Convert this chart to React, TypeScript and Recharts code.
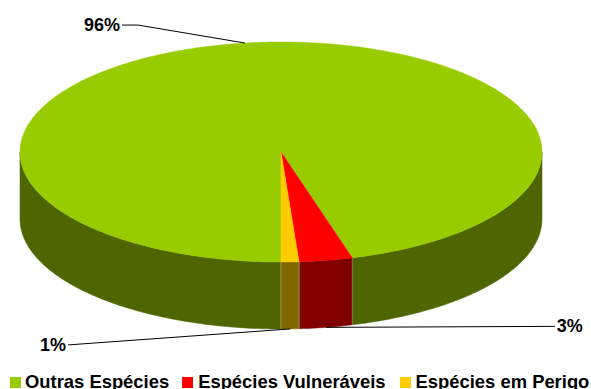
import React from 'react';
import { PieChart, Pie, Cell, Legend } from 'recharts';

// ---- data ----
const categories = ['Outras Espécies', 'Espécies Vulneráveis', 'Espécies em Perigo'];
const shares = [95.6, 3.3, 1.1];
const colors = ['#99CC00', '#FF0000', '#FFCC00'];

const data = categories.map((name, i) => ({ name, value: shares[i] }));
const total = shares.reduce((a, b) => a + b, 0);

// ---- layout / style ----
const W = 591;
const H = 389;
const CX = 281;
const CY = 152;
const RX = 261;
const RY = 110;
const DEPTH = 67;
const FONT = '"Liberation Sans", Arial, Helvetica, sans-serif';
// leader-line layout per slice (offset of elbow from anchor, horizontal tail length)
const LABEL_LAYOUT = [
  { dx: -107, dy: -18, tail: 16 },
  { dx: 229, dy: -1, tail: 0 },
  { dx: -222, dy: 16, tail: 0 },
];
const LEGEND_GAPS = [13, 14];

function darken(hex: string): string {
  const n = parseInt(hex.slice(1), 16);
  const r = Math.round(((n >> 16) & 255) / 2);
  const g = Math.round(((n >> 8) & 255) / 2);
  const b = Math.round((n & 255) / 2);
  return `rgb(${r},${g},${b})`;
}

function pt(cx: number, cy: number, a: number, dy = 0): [number, number] {
  const r = (a * Math.PI) / 180;
  return [cx + RX * Math.cos(r), cy - RY * Math.sin(r) + dy];
}

function arc(cx: number, cy: number, a1: number, a2: number, dy: number) {
  const n = Math.max(2, Math.ceil(Math.abs(a2 - a1)));
  const pts: [number, number][] = [];
  for (let i = 0; i <= n; i++) {
    pts.push(pt(cx, cy, a1 + ((a2 - a1) * i) / n, dy));
  }
  return pts;
}

const toD = (pts: [number, number][]) =>
  pts.map((p, i) => `${i === 0 ? 'M' : 'L'}${p[0].toFixed(2)},${p[1].toFixed(2)}`).join('') + 'Z';

const Slice3D = (props: any) => {
  const { cx, cy, startAngle, endAngle, fill } = props;
  const lo = Math.min(startAngle, endAngle);
  const hi = Math.max(startAngle, endAngle);
  const dark = darken(fill);
  const walls: string[] = [];
  const edges: number[] = [];
  for (let k = -3; k <= 2; k++) {
    const flo = -180 + 360 * k;
    const fhi = 360 * k;
    const i1 = Math.max(lo, flo);
    const i2 = Math.min(hi, fhi);
    if (i2 - i1 > 1e-6) {
      const top = arc(cx, cy, i1, i2, 0);
      const bottom = arc(cx, cy, i2, i1, DEPTH);
      walls.push(toD([...top, ...bottom]));
      if (i1 === lo) edges.push(i1);
      if (i2 === hi) edges.push(i2);
    }
  }
  const topFace = toD([[cx, cy], ...arc(cx, cy, startAngle, endAngle, 0)]);
  return (
    <g>
      {walls.map((d, i) => (
        <path key={`w${i}`} d={d} fill={dark} stroke={dark} strokeWidth={0.5} />
      ))}
      {edges.map((a, i) => {
        const [x, y] = pt(cx, cy, a);
        return (
          <line key={`e${i}`} x1={x} y1={y} x2={x} y2={y + DEPTH} stroke="#a8a878" strokeWidth={1} strokeOpacity={0.55} />
        );
      })}
      <path d={topFace} fill={fill} stroke={fill} strokeWidth={0.5} />
    </g>
  );
};

const renderLabel = (props: any) => {
  const { cx, cy, index, startAngle, endAngle, value } = props;
  const mid = props.midAngle !== undefined ? props.midAngle : (startAngle + endAngle) / 2;
  const r = (mid * Math.PI) / 180;
  const s = Math.sin(r);
  const ax = cx + RX * Math.cos(r);
  const ay = cy - RY * s + (s < 0 ? DEPTH : 0);
  const lay = LABEL_LAYOUT[index];
  const ex = ax + lay.dx;
  const ey = ay + lay.dy;
  const dir = lay.dx < 0 ? -1 : 1;
  const tx = ex + dir * lay.tail;
  const pct = Math.round((value / total) * 100);
  return (
    <g key={`lbl${index}`}>
      <polyline points={`${ax},${ay} ${ex},${ey} ${tx},${ey}`} fill="none" stroke="#000" strokeWidth={1} />
      <text
        x={tx + dir * 2}
        y={ey}
        textAnchor={dir < 0 ? 'end' : 'start'}
        dominantBaseline="central"
        fontFamily={FONT}
        fontWeight="bold"
        fontSize={18}
        fill="#000"
      >
        {`${pct}%`}
      </text>
    </g>
  );
};

const renderLegend = () => (
  <div
    style={{
      display: 'flex',
      justifyContent: 'flex-start',
      alignItems: 'baseline',
      paddingLeft: 10,
      fontFamily: FONT,
      fontWeight: 'bold',
      fontSize: 18.4,
      lineHeight: '20px',
      color: '#000',
      whiteSpace: 'nowrap',
    }}
  >
    {categories.map((c, i) => (
      <div key={c} style={{ display: 'flex', alignItems: 'baseline', marginRight: i < LEGEND_GAPS.length ? LEGEND_GAPS[i] : 0 }}>
        <span style={{ display: 'inline-block', width: 11, height: 11, background: colors[i], marginRight: i === 0 ? 4 : 5 }} />
        <span>{c}</span>
      </div>
    ))}
  </div>
);

export default function App() {
  return (
    <div style={{ width: W, height: H, background: '#fff', overflow: 'hidden' }}>
      <style>{'body{margin:0;}'}</style>
      <PieChart width={W} height={H} margin={{ top: 0, right: 0, bottom: 0, left: 0 }}>
        <Pie
          data={data}
          dataKey="value"
          nameKey="name"
          cx={CX}
          cy={CY}
          outerRadius={RX}
          startAngle={-90}
          endAngle={-450}
          isAnimationActive={false}
          stroke="none"
          shape={Slice3D}
          activeShape={Slice3D}
          inactiveShape={Slice3D}
          label={renderLabel}
          labelLine={false}
        >
          {data.map((d, i) => (
            <Cell key={d.name} fill={colors[i]} />
          ))}
        </Pie>
        <Legend
          verticalAlign="bottom"
          content={renderLegend}
          wrapperStyle={{ top: 371.5, bottom: 'auto', left: 0, width: W }}
        />
      </PieChart>
    </div>
  );
}
